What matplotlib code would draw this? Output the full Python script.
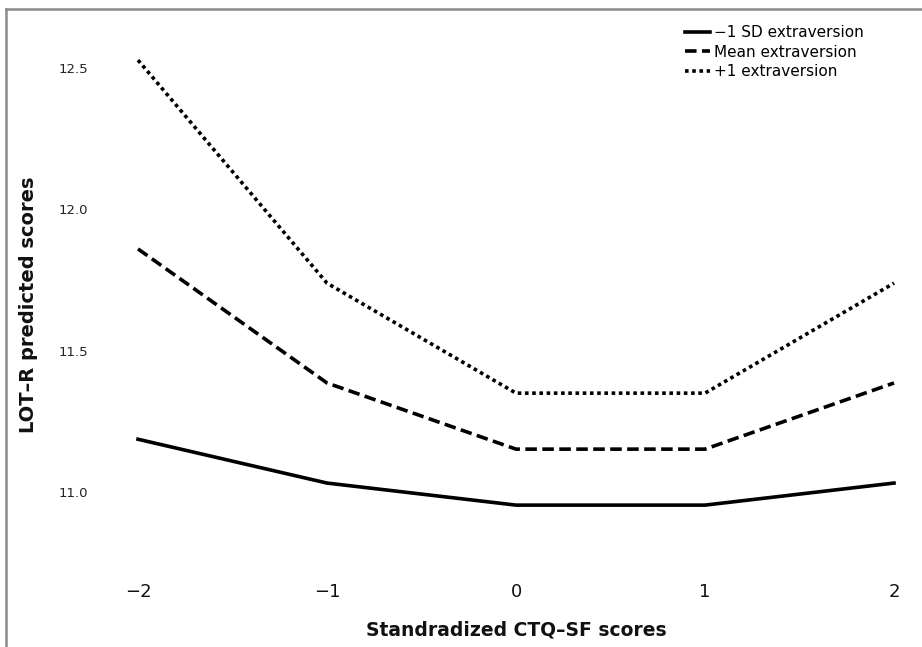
import matplotlib
matplotlib.use("Agg")
import matplotlib.pyplot as plt
from matplotlib.lines import Line2D

plt.rcParams['font.family'] = ['DejaVu Sans']

ctq = [-2, -1, 0, 1, 2]
low_extra = [11.187, 11.032, 10.954, 10.954, 11.032]
mean_extra = [11.86, 11.386, 11.152, 11.152, 11.386]
high_extra = [12.528, 11.739, 11.350, 11.350, 11.739]
series_labels = ["\u22121 SD extraversion", "Mean extraversion", "+1 extraversion"]
yticks = [11.0, 11.5, 12.0, 12.5]
ytick_labels = ["11.0", "11.5", "12.0", "12.5"]
xtick_labels = ["\u22122", "\u22121", "0", "1", "2"]

W, H = 922, 647
fig = plt.figure(figsize=(W / 100, H / 100), dpi=100)
fig.patch.set_facecolor("white")

left_px, right_px = 138, 894
top_px, bot_px = 40, 530
ax = fig.add_axes([left_px / W, 1 - bot_px / H, (right_px - left_px) / W, (bot_px - top_px) / H])
ax.set_xlim(-2, 2)
ax.set_ylim(10.866, 12.599)
for s in ax.spines.values():
    s.set_visible(False)

lw = 2.6
ax.plot(ctq, low_extra, color="black", lw=lw, linestyle="-", clip_on=False,
        solid_joinstyle="round", label=series_labels[0])
ax.plot(ctq, mean_extra, color="black", lw=lw, linestyle=(0, (3.2, 1.5)), clip_on=False,
        dash_capstyle="butt", label=series_labels[1])
ax.plot(ctq, high_extra, color="black", lw=lw, linestyle=(0, (1, 1)), clip_on=False,
        dash_capstyle="butt", label=series_labels[2])

ax.set_yticks(yticks)
ax.set_yticklabels(ytick_labels)
ax.set_xticks(ctq)
ax.set_xticklabels(xtick_labels)
ax.tick_params(axis="y", length=0, pad=36, labelsize=9.5, labelcolor="#222222")
ax.tick_params(axis="x", length=0, pad=38, labelsize=13, labelcolor="#111111")

leg = ax.legend(loc="upper right", bbox_to_anchor=(864 / W, 1 - 25 / H),
                bbox_transform=fig.transFigure, frameon=False, fontsize=11,
                handlelength=1.6, handletextpad=0.3, labelspacing=0.3,
                borderpad=0, borderaxespad=0)

fig.text(516 / W, 1 - 630 / H, "Standradized CTQ\u2013SF scores", ha="center", va="center",
         fontsize=13.5, fontweight="bold", color="#111111")
fig.text(28 / W, 1 - 305 / H, "LOT\u2013R predicted scores", ha="center", va="center",
         rotation=90, fontsize=14, fontweight="bold", color="#111111")

# outer frame
fig.add_artist(Line2D([6 / W, 6 / W], [0, 1 - 9 / H], transform=fig.transFigure,
                      color="#8a8a8a", lw=1.8))
fig.add_artist(Line2D([6 / W, 1], [1 - 9 / H, 1 - 9 / H], transform=fig.transFigure,
                      color="#8a8a8a", lw=1.8))

fig.savefig("out.png", dpi=100)
